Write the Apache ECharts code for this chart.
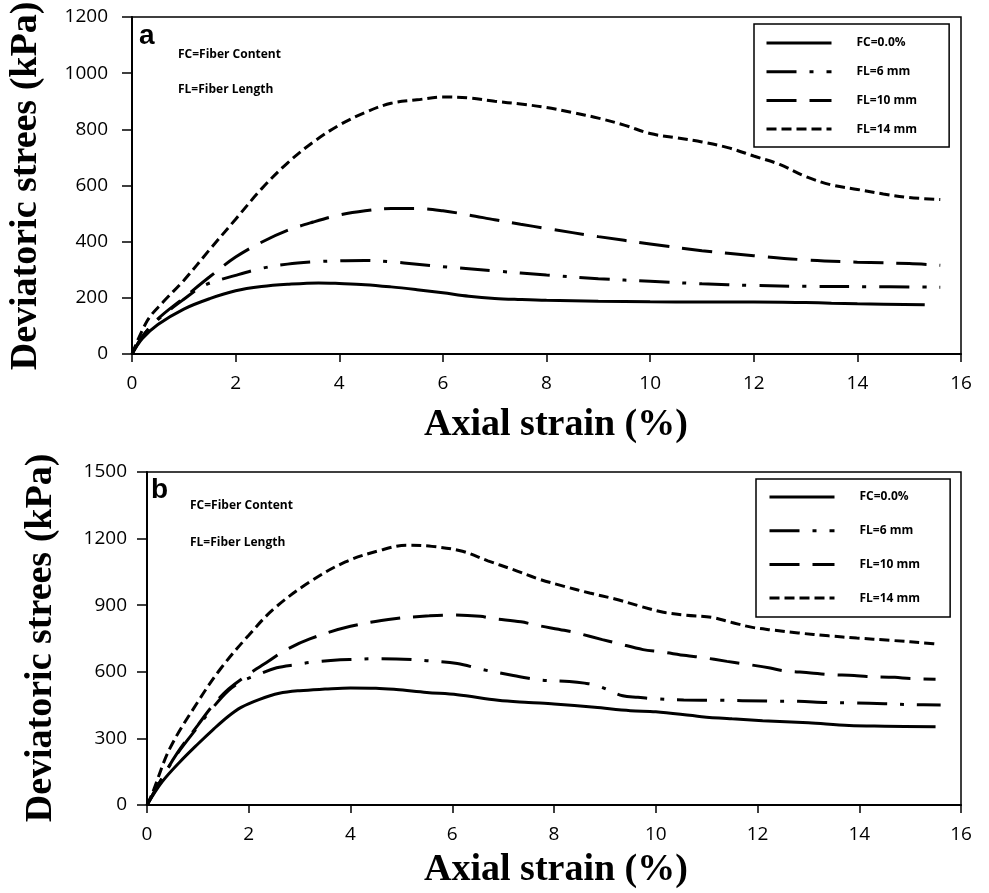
<!DOCTYPE html>
<html>
<head>
<meta charset="utf-8">
<script src="https://cdn.jsdelivr.net/npm/echarts@6/dist/echarts.min.js"></script>
<style>
  html, body { margin: 0; padding: 0; background: #fff; }
  #chart { width: 989px; height: 893px; }
</style>
</head>
<body>
<div id="chart"></div>
<script>
// Series names (shared by both panels)
const seriesNames = ['FC=0.0%', 'FL=6 mm', 'FL=10 mm', 'FL=14 mm'];

// Axis ticks
const strainTicks = { min: 0, max: 16, step: 2 };
const stressTicksA = { min: 0, max: 1200, step: 200 };
const stressTicksB = { min: 0, max: 1500, step: 300 };

// Panel a: [axial strain %, deviatoric stress kPa]
const a_FC00 = [[0,0],[0.2,55],[0.5,105],[1,160],[1.5,197],[2,225],[2.5,240],[3,248],[3.6,253],[4,251],[4.5,247],[5,239],[5.5,229],[6,218],[6.5,206],[7,198],[7.5,194],[8,191],[9,188],[10,186],[11,185],[12,185],[13,183],[13.5,181],[14,179],[15.3,175]];
const a_FL6 = [[0,0],[0.2,62],[0.5,122],[1,195],[1.4,245],[2,280],[2.5,305],[3,320],[3.5,328],[4,332],[4.5,333],[5,328],[5.5,320],[6,311],[7,296],[8,281],[9,268],[10,259],[11,250],[12,244],[13,241],[14,240],[15.6,238]];
const a_FL10 = [[0,0],[0.2,62],[0.5,125],[1,200],[1.5,275],[2,345],[2.5,398],[3,440],[3.5,470],[4,495],[4.5,510],[5,518],[5.5,518],[6,510],[6.5,495],[7,478],[7.5,462],[8,447],[9,418],[10,392],[11,368],[12,350],[13,335],[14,327],[15,322],[15.6,316]];
const a_FL14 = [[0,0],[0.3,120],[0.6,185],[1,262],[1.5,372],[2,480],[2.5,588],[3,680],[3.5,755],[4,815],[4.5,860],[5,893],[5.5,905],[6,915],[6.5,912],[7,900],[7.5,890],[8,878],[8.5,860],[9,840],[9.5,815],[10,785],[10.5,770],[11,755],[11.5,735],[12,705],[12.5,675],[13,632],[13.5,602],[14,586],[14.5,570],[15,557],[15.6,550]];

// Panel b: [axial strain %, deviatoric stress kPa]
const b_FC00 = [[0,0],[0.3,105],[0.65,195],[1,275],[1.3,340],[1.6,400],[1.85,440],[2.2,475],[2.6,503],[3,515],[3.5,522],[4,527],[4.5,526],[4.9,520],[5.5,507],[6.1,497],[6.9,472],[7.5,462],[8,455],[8.8,440],[9.5,425],[10,420],[10.9,398],[11.5,388],[12.1,380],[13,370],[13.8,358],[14.5,355],[15.5,352]];
const b_FL6 = [[0,0],[0.3,122],[0.6,232],[1,352],[1.3,440],[1.6,515],[1.85,555],[2.1,580],[2.55,618],[2.95,633],[3.2,642],[3.8,654],[4.1,656],[4.4,659],[4.9,658],[5.5,650],[6.1,637],[6.6,610],[7.2,583],[7.5,571],[7.75,562],[8.3,556],[8.6,549],[8.85,538],[9.35,492],[9.65,485],[9.95,479],[10.55,473],[11.2,472],[12.2,468],[12.8,467],[13.35,462],[13.9,460],[14.5,456],[15.05,452],[15.6,450]];
const b_FL10 = [[0,0],[0.3,122],[0.6,236],[1,360],[1.3,450],[1.6,522],[2,590],[2.4,650],[2.7,695],[3.2,748],[4,805],[4.9,840],[5.55,852],[6,856],[6.55,850],[6.8,840],[7.35,825],[7.65,810],[8.2,787],[8.45,775],[8.95,745],[9.25,728],[9.75,700],[10.1,690],[10.6,673],[10.9,665],[11.4,647],[11.7,637],[12.25,617],[12.5,605],[13.05,595],[13.35,588],[13.9,583],[14.15,579],[14.7,575],[15,570],[15.5,567]];
const b_FL14 = [[0,0],[0.1,50],[0.45,255],[1,465],[1.45,615],[2,765],[2.5,885],[3.2,1005],[3.9,1095],[4.6,1148],[5.1,1170],[5.6,1165],[6.2,1143],[6.7,1100],[7.2,1060],[7.7,1018],[8.2,985],[8.7,955],[9.2,928],[9.7,895],[10.15,868],[10.6,855],[11.1,845],[11.5,822],[11.9,800],[12.3,788],[12.8,775],[13.4,762],[13.95,752],[14.6,742],[15.4,728],[15.55,725]];

const panelA = [a_FC00, a_FL6, a_FL10, a_FL14];
const panelB = [b_FC00, b_FL6, b_FL10, b_FL14];

// Dash patterns: solid, dash-dot, long dash, short dash
const dashTypes = ['solid', [30, 13, 4, 13], [30, 13], [10, 5]];

const chart = echarts.init(document.getElementById('chart'), null, { renderer: 'canvas' });

const tickFont = { color: '#000', fontFamily: 'Open Sans', fontSize: 19, formatter: v => String(v) };
const serifTitle = { fill: '#000', fontFamily: 'Liberation Serif', fontWeight: 'bold', fontSize: 38 };
const noteFont = { fill: '#000', fontFamily: 'Open Sans', fontWeight: 'bold', fontSize: 12 };

function xAxisFor(gridIndex) {
  return {
    type: 'value', gridIndex,
    min: strainTicks.min, max: strainTicks.max, interval: strainTicks.step,
    axisLine: { show: true, onZero: false, lineStyle: { color: '#000', width: 2 } },
    axisTick: { show: true, inside: false, length: 8, lineStyle: { color: '#000', width: 1.5 } },
    axisLabel: Object.assign({ margin: 20 }, tickFont),
    splitLine: { show: false }
  };
}
function yAxisFor(gridIndex, t, margin) {
  return {
    type: 'value', gridIndex,
    min: t.min, max: t.max, interval: t.step,
    axisLine: { show: true, onZero: false, lineStyle: { color: '#000', width: 2 } },
    axisTick: { show: true, inside: false, length: 10, lineStyle: { color: '#000', width: 1.5 } },
    axisLabel: Object.assign({ margin }, tickFont),
    splitLine: { show: false }
  };
}

function makeSeries(panel, axisIndex) {
  return panel.map((data, i) => ({
    name: seriesNames[i],
    type: 'line',
    xAxisIndex: axisIndex,
    yAxisIndex: axisIndex,
    data,
    smooth: 0.35,
    symbol: 'none',
    silent: true,
    lineStyle: { color: '#000', width: 3, type: dashTypes[i], cap: 'butt' },
    itemStyle: { color: '#000' }
  }));
}

function legendFor(left, top, gap, pad) {
  return {
    orient: 'vertical',
    left, top,
    data: seriesNames,
    itemWidth: 65,
    itemHeight: 14,
    itemGap: gap,
    padding: pad,
    borderColor: '#000',
    borderWidth: 1.5,
    backgroundColor: '#fff',
    selectedMode: false,
    itemStyle: { color: 'transparent', borderColor: 'transparent', borderWidth: 0, opacity: 0 },
    lineStyle: { width: 3, color: '#000' },
    textStyle: { color: '#000', fontFamily: 'Open Sans', fontWeight: 'bold', fontSize: 12, padding: [0, 0, 0, 20] }
  };
}

chart.setOption({
  animation: false,
  backgroundColor: '#fff',
  grid: [
    { left: 132, right: 28, top: 17, height: 337, show: true, borderColor: '#000', borderWidth: 1.5, backgroundColor: 'transparent' },
    { left: 147, right: 28, top: 472, height: 333, show: true, borderColor: '#000', borderWidth: 1.5, backgroundColor: 'transparent' }
  ],
  xAxis: [xAxisFor(0), xAxisFor(1)],
  yAxis: [yAxisFor(0, stressTicksA, 24), yAxisFor(1, stressTicksB, 20)],
  legend: [
    legendFor(754, 24, 16.7, [13, 32, 12, 11]),
    legendFor(756, 479, 21.7, [12, 30, 13, 12])
  ],
  series: makeSeries(panelA, 0).concat(makeSeries(panelB, 1)),
  graphic: [
    // axis titles, panel a
    { type: 'text', x: 45, y: 186, rotation: Math.PI / 2,
      style: Object.assign({ text: 'Deviatoric strees (kPa)', textAlign: 'center', textVerticalAlign: 'bottom' }, serifTitle) },
    { type: 'text', x: 556, y: 425,
      style: Object.assign({ text: 'Axial strain (%)', textAlign: 'center', textVerticalAlign: 'middle' }, serifTitle) },
    // axis titles, panel b
    { type: 'text', x: 60, y: 638, rotation: Math.PI / 2,
      style: Object.assign({ text: 'Deviatoric strees (kPa)', textAlign: 'center', textVerticalAlign: 'bottom' }, serifTitle) },
    { type: 'text', x: 556, y: 870,
      style: Object.assign({ text: 'Axial strain (%)', textAlign: 'center', textVerticalAlign: 'middle' }, serifTitle) },
    // panel letters and abbreviations
    { type: 'text', x: 139, y: 36,
      style: { text: 'a', fill: '#000', fontFamily: 'Liberation Sans', fontWeight: 'bold', fontSize: 28, textVerticalAlign: 'middle' } },
    { type: 'text', x: 178, y: 55, style: Object.assign({ text: 'FC=Fiber Content', textVerticalAlign: 'middle' }, noteFont) },
    { type: 'text', x: 178, y: 90, style: Object.assign({ text: 'FL=Fiber Length', textVerticalAlign: 'middle' }, noteFont) },
    { type: 'text', x: 151, y: 490,
      style: { text: 'b', fill: '#000', fontFamily: 'Liberation Sans', fontWeight: 'bold', fontSize: 28, textVerticalAlign: 'middle' } },
    { type: 'text', x: 190, y: 506, style: Object.assign({ text: 'FC=Fiber Content', textVerticalAlign: 'middle' }, noteFont) },
    { type: 'text', x: 190, y: 543, style: Object.assign({ text: 'FL=Fiber Length', textVerticalAlign: 'middle' }, noteFont) }
  ]
});
</script>
</body>
</html>
